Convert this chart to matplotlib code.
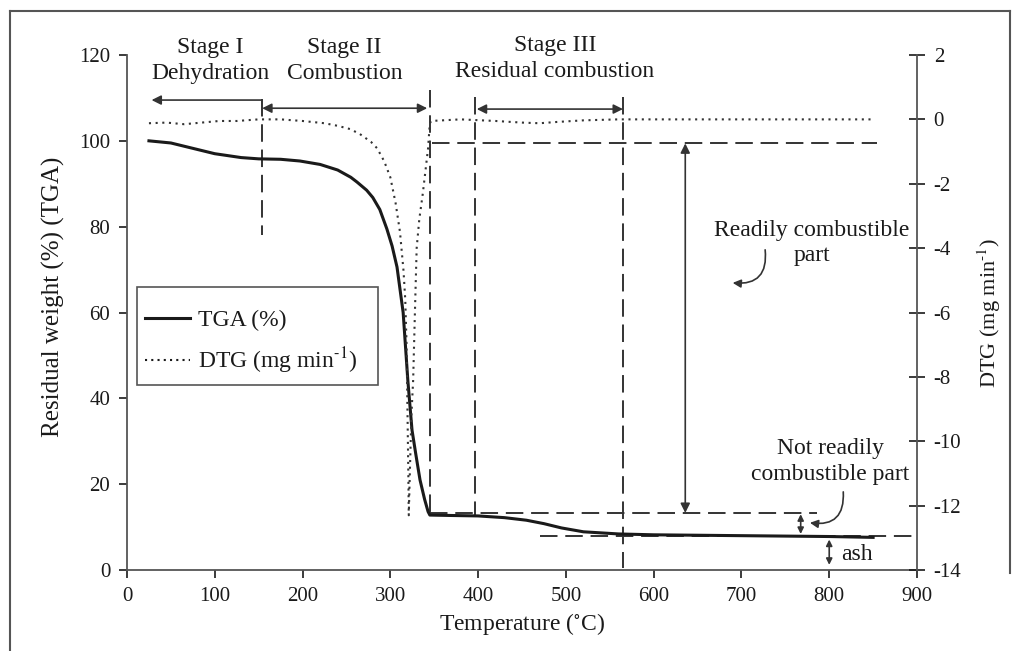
import numpy as np
import matplotlib
matplotlib.use("Agg")
import matplotlib.pyplot as plt
from matplotlib.lines import Line2D
from matplotlib.patches import Rectangle

# ---------------------------
# Data
# ---------------------------
tga_temp = [25, 50, 80, 100, 130, 150, 175, 197, 220, 240, 255, 262, 273, 280, 288,
            296, 302, 307.6, 314.6, 320, 324.7, 329, 333.8, 339, 343, 345,
            370, 400, 430, 455, 475, 495, 520, 560, 600, 700, 800, 850]
tga_val = [100, 99.5, 98, 97, 96.1, 95.8, 95.7, 95.3, 94.5, 93.2, 91.5, 90.4, 88.5, 86.8, 84,
           79.5, 75.5, 70.6, 60, 44, 32.6, 27, 21, 16.5, 13.6, 12.8,
           12.7, 12.6, 12.2, 11.6, 10.8, 9.8, 8.9, 8.4, 8.2, 8.0, 7.8, 7.6]

dtg_temp = [25, 45, 65, 85, 105, 125, 150, 175, 200, 225, 240, 254, 265, 278, 285,
            293, 300, 306, 311, 315, 317, 318.5, 319.5, 320.5, 321,
            322.5, 324, 326, 328, 330, 333, 337, 340, 343, 344.5, 346,
            380, 420, 450, 470, 490, 520, 560, 650, 750, 850]
dtg_val = [-0.12, -0.1, -0.15, -0.1, -0.05, -0.05, 0.0, 0.0, -0.05, -0.12, -0.2, -0.3, -0.45, -0.7, -0.9,
           -1.3, -1.8, -2.6, -3.5, -4.7, -5.6, -7.0, -9.0, -11.0, -12.3,
           -10.7, -9.2, -8.1, -6.0, -4.0, -3.1, -2.3, -1.6, -0.9, -0.3, -0.05,
           0.0, -0.05, -0.1, -0.12, -0.08, -0.03, 0.0, 0.0, 0.0, 0.0]

# stage boundaries / levels (temperature, weight %)
stage_bounds = [154, 345, 396.5, 565]
level_start = 99.4
level_burnt = 13.3
level_ash = 7.9

INK = "#1a1a1a"
FONT = "Liberation Serif"
FS = 15     # tick labels
FT = 17     # annotations / labels

plt.rcParams['font.family'] = [FONT, 'DejaVu Serif']
plt.rcParams['mathtext.fontset'] = 'stix'
plt.rcParams['axes.unicode_minus'] = False

fig = plt.figure(figsize=(10.17, 6.51), dpi=100)
ax = fig.add_axes([127 / 1017, 1 - 570 / 651, 790 / 1017, 515 / 651])
ax2 = ax.twinx()

# curves
ax.plot(tga_temp, tga_val, color=INK, lw=2.2, solid_joinstyle='round', zorder=5)
ax2.plot(dtg_temp, dtg_val, color="#333333", lw=1.5, ls=(0, (1, 2.2)), zorder=4)

ax.set_xlim(0, 900)
ax.set_ylim(0, 120)
ax2.set_ylim(-14, 2)
ax.set_xticks(np.arange(0, 901, 100))
ax.set_yticks(np.arange(0, 121, 20))
ax2.set_yticks(np.arange(-14, 3, 2))

for a in (ax, ax2):
    a.spines['top'].set_visible(False)
    for s in a.spines.values():
        s.set_color("#555555")
        s.set_linewidth(1.3)
ax.spines['right'].set_visible(False)
ax2.spines['left'].set_visible(False)
ax2.spines['bottom'].set_visible(False)

ax.tick_params(axis='both', direction='out', length=6, width=1.2, color=INK,
               labelsize=FS, labelcolor=INK, pad=6)
ax2.tick_params(axis='y', direction='inout', length=12, width=1.2, color=INK,
                labelsize=FS, labelcolor=INK, pad=6)

ax.set_xlabel(r"Temperature ($^{\circ}$C)", fontsize=FT, color=INK, labelpad=4)
ax.set_ylabel("Residual weight (%) (TGA)", fontsize=18, color=INK)
ax.yaxis.set_label_coords(-0.078, 0.53)
ax2.set_ylabel(r"DTG (mg min$^{\text{-1}}$)", fontsize=16, color=INK, labelpad=10)

# dashed guide lines
dash = dict(color="#333333", lw=1.4, ls=(0, (9, 4)), zorder=3)
ax.plot([stage_bounds[0]] * 2, [109.8, 78.0], **dash)
ax.plot([stage_bounds[1]] * 2, [111.8, 12.6], **dash)
ax.plot([stage_bounds[2]] * 2, [110.2, 12.6], **dash)
ax.plot([stage_bounds[3]] * 2, [110.2, 0.4], **dash)
ax.plot([347, 854], [level_start] * 2, **dash)
ax.plot([345, 786], [level_burnt] * 2, **dash)
ax.plot([470, 900], [level_ash] * 2, **dash)

# arrows
arr = dict(arrowstyle='-|>', color="#333333", lw=1.2, mutation_scale=14, shrinkA=0, shrinkB=0)
darr = dict(arrowstyle='<|-|>', color="#333333", lw=1.2, mutation_scale=14, shrinkA=0, shrinkB=0)
ax.annotate("", xy=(28, 109.5), xytext=(stage_bounds[0], 109.5), arrowprops=arr)
ax.annotate("", xy=(154, 107.6), xytext=(342, 107.6), arrowprops=darr)
ax.annotate("", xy=(398.5, 107.4), xytext=(565, 107.4), arrowprops=darr)
ax.annotate("", xy=(636, level_start), xytext=(636, level_burnt), arrowprops=darr)
darr_s = dict(darr, mutation_scale=9)
ax.annotate("", xy=(767.5, level_burnt - 0.3), xytext=(767.5, level_ash + 0.5), arrowprops=darr_s)
ax.annotate("", xy=(800, level_ash - 0.8), xytext=(800, 1.2), arrowprops=darr_s)

# curved pointer arrows
cur = dict(arrowstyle='-|>', color="#333333", lw=1.2, mutation_scale=12,
           shrinkA=0, shrinkB=0, connectionstyle="arc3,rad=-0.6")
ax.annotate("", xy=(690, 66.9), xytext=(727, 74.6), arrowprops=cur)
ax.annotate("", xy=(778, 11.0), xytext=(816, 18.2), arrowprops=cur)

# texts
txt = dict(fontsize=FT, color=INK, ha='center', va='center', linespacing=1.3)
ax.text(94.6, 118.8, "Stage I\nDehydration", **txt)
ax.text(248, 118.8, "Stage II\nCombustion", **txt)
ax.text(487.6, 119.1, "Stage III\nResidual combustion", **txt)
ax.text(780, 76.2, "Readily combustible\npart", **txt)
ax.text(801, 25.2, "Not readily\ncombustible part", **txt)
ax.text(813, 3.5, "ash", fontsize=FT, color=INK, ha='left', va='center')

# legend (frame drawn by hand so the padding matches)
h1 = Line2D([], [], color=INK, lw=2.2)
h2 = Line2D([], [], color=INK, lw=1.5, ls=(0, (1, 2)))
leg = ax.legend([h1, h2], ["TGA (%)", r"DTG (mg min$^{\text{-1}}$)"],
                loc='upper left', bbox_to_anchor=((145 - 127) / 790, (570 - 310) / 515),
                fontsize=FT, frameon=False, handlelength=1.9, handletextpad=0.35,
                borderpad=0, labelspacing=0.6, borderaxespad=0)
for t in leg.get_texts():
    t.set_color(INK)
ax.add_patch(Rectangle(((137 - 127) / 790, (570 - 385) / 515), (378 - 137) / 790, 98 / 515,
                       transform=ax.transAxes, fill=False, edgecolor="#555555", lw=1.2, zorder=6))

# outer page frame
frame_kw = dict(color="#555555", lw=1.5, transform=fig.transFigure)
fig.add_artist(Line2D([10 / 1017, 10 / 1017], [0, 1 - 11 / 651], **frame_kw))
fig.add_artist(Line2D([10 / 1017, 1010 / 1017], [1 - 11 / 651, 1 - 11 / 651], **frame_kw))
fig.add_artist(Line2D([1010 / 1017, 1010 / 1017], [1 - 11 / 651, 0.12], **frame_kw))

fig.savefig("out.png", dpi=100)
